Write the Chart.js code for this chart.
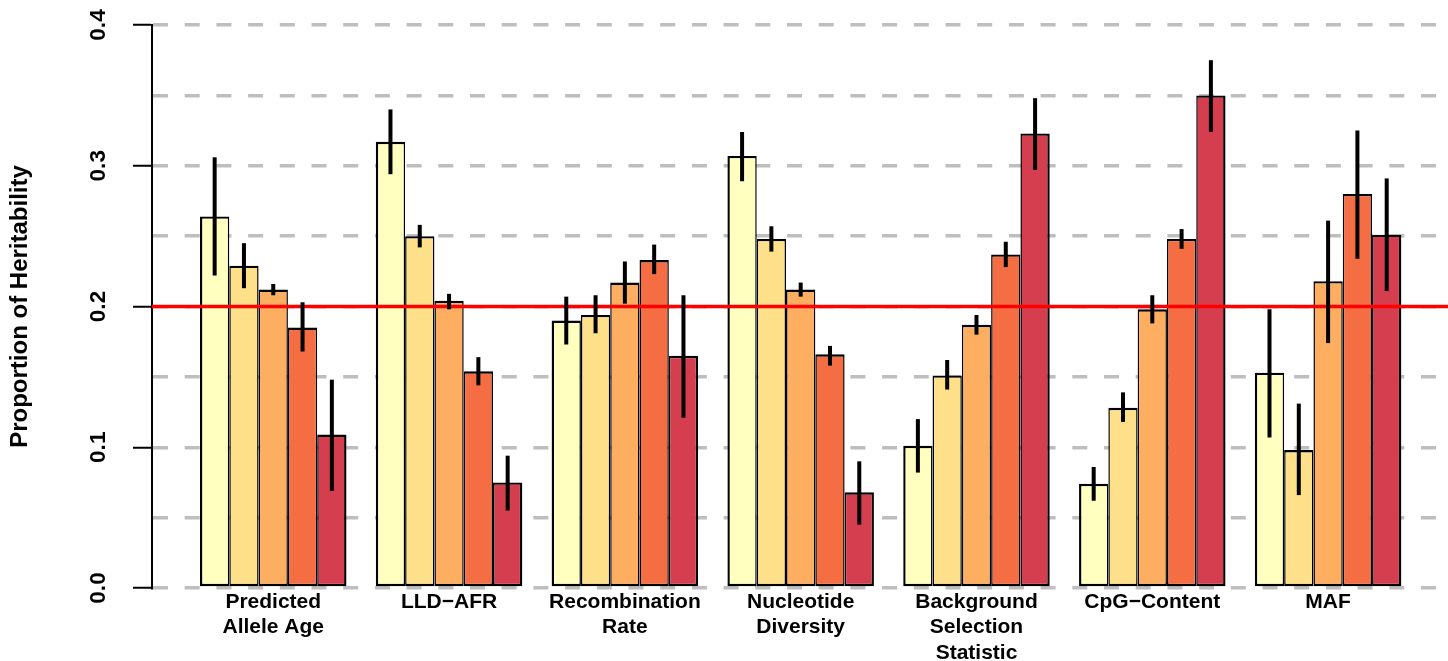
<!DOCTYPE html>
<html>
<head>
<meta charset="utf-8">
<script src="https://cdn.jsdelivr.net/npm/chart.js@4.4.1/dist/chart.umd.min.js"></script>
<style>
  html, body { margin: 0; padding: 0; background: #ffffff; overflow: hidden; }
  #wrap { width: 1448px; height: 661px; position: relative; }
  canvas { display: block; }
</style>
</head>
<body>
<div id="wrap"><canvas id="c" width="1448" height="661"></canvas></div>
<script>
// ---- Data ----
const categories = [
  ["Predicted", "Allele Age"],
  ["LLD\u2212AFR"],
  ["Recombination", "Rate"],
  ["Nucleotide", "Diversity"],
  ["Background", "Selection", "Statistic"],
  ["CpG\u2212Content"],
  ["MAF"]
];
const seriesNames = ["Quintile 1", "Quintile 2", "Quintile 3", "Quintile 4", "Quintile 5"];

const q1 = [0.264, 0.317, 0.190, 0.307, 0.101, 0.074, 0.153];
const q2 = [0.229, 0.250, 0.194, 0.248, 0.151, 0.128, 0.098];
const q3 = [0.212, 0.204, 0.217, 0.212, 0.187, 0.198, 0.218];
const q4 = [0.185, 0.154, 0.233, 0.166, 0.237, 0.248, 0.280];
const q5 = [0.109, 0.075, 0.165, 0.068, 0.323, 0.350, 0.251];

const q1Low  = [0.222, 0.294, 0.173, 0.289, 0.082, 0.062, 0.107];
const q1High = [0.306, 0.340, 0.207, 0.324, 0.120, 0.086, 0.198];
const q2Low  = [0.213, 0.242, 0.181, 0.239, 0.141, 0.118, 0.066];
const q2High = [0.245, 0.258, 0.208, 0.257, 0.162, 0.139, 0.131];
const q3Low  = [0.208, 0.198, 0.202, 0.207, 0.180, 0.188, 0.174];
const q3High = [0.216, 0.209, 0.232, 0.217, 0.194, 0.208, 0.261];
const q4Low  = [0.168, 0.144, 0.223, 0.158, 0.228, 0.241, 0.234];
const q4High = [0.203, 0.164, 0.244, 0.172, 0.246, 0.255, 0.325];
const q5Low  = [0.069, 0.055, 0.121, 0.045, 0.297, 0.324, 0.211];
const q5High = [0.148, 0.094, 0.208, 0.090, 0.348, 0.375, 0.291];

const yTickValues = [0.0, 0.1, 0.2, 0.3, 0.4];
const referenceLine = 0.2;

// ---- Styles ----
const colors = ["#FFFFBF", "#FEE08B", "#FDAE61", "#F46D43", "#D53E4F"];
const seriesValues = [q1, q2, q3, q4, q5];
const seriesLow = [q1Low, q2Low, q3Low, q4Low, q5Low];
const seriesHigh = [q1High, q2High, q3High, q4High, q5High];

const FONT = "'Liberation Sans', Arial, Helvetica, sans-serif";
Chart.defaults.font.family = FONT;
Chart.defaults.font.weight = 'bold';
Chart.defaults.color = '#000000';

const datasets = seriesValues.map((vals, d) => ({
  label: seriesNames[d],
  data: vals.map((v, i) => ({ x: i, y: v })),
  backgroundColor: colors[d],
  borderColor: '#000000',
  borderSkipped: false,
  borderWidth: {
    top: 2.4, bottom: 2.4,
    left: d === 0 ? 2.4 : 1.5,
    right: d === seriesValues.length - 1 ? 2.4 : 1.5
  },
  categoryPercentage: 5 / 6,
  barPercentage: 1.0
}));

const errorBarPlugin = {
  id: 'errorBars',
  afterDatasetsDraw(chart) {
    const ctx = chart.ctx;
    const y = chart.scales.y;
    const area = chart.chartArea;
    // reference line
    ctx.save();
    ctx.strokeStyle = '#FF0000';
    ctx.lineWidth = 3.5;
    const ry = y.getPixelForValue(referenceLine);
    ctx.beginPath();
    ctx.moveTo(area.left, ry);
    ctx.lineTo(area.right, ry);
    ctx.stroke();
    // error bars
    ctx.strokeStyle = '#000000';
    ctx.lineWidth = 4;
    ctx.lineCap = 'butt';
    chart.data.datasets.forEach((ds, d) => {
      const meta = chart.getDatasetMeta(d);
      meta.data.forEach((bar, i) => {
        const lo = y.getPixelForValue(seriesLow[d][i]);
        const hi = y.getPixelForValue(seriesHigh[d][i]);
        ctx.beginPath();
        ctx.moveTo(bar.x, lo);
        ctx.lineTo(bar.x, hi);
        ctx.stroke();
      });
    });
    ctx.restore();
  }
};

const isMajor = (v) => yTickValues.some(t => Math.abs(t - v) < 1e-9);

new Chart(document.getElementById('c'), {
  type: 'bar',
  data: { datasets },
  options: {
    responsive: false,
    animation: false,
    devicePixelRatio: 1,
    layout: { padding: { top: 25, right: 0, bottom: 0, left: 0 } },
    plugins: {
      legend: { display: false },
      tooltip: { enabled: false }
    },
    scales: {
      x: {
        type: 'linear',
        offset: false,
        min: -0.6897,
        max: 6.682,
        grid: { display: false, drawTicks: false },
        border: { display: false },
        ticks: {
          stepSize: 1,
          includeBounds: false,
          autoSkip: false,
          maxRotation: 0,
          minRotation: 0,
          padding: 1,
          font: { size: 21, weight: 'bold', lineHeight: 1.22 },
          color: '#000000',
          callback: (v) => Number.isInteger(v) && categories[v] ? categories[v] : ''
        },
        afterFit: (s) => { s.height = 73; }
      },
      y: {
        min: 0,
        max: 0.4,
        grid: {
          color: '#BEBEBE',
          lineWidth: 3.5,
          drawTicks: true,
          tickLength: 19,
          tickWidth: 2,
          tickBorderDash: [],
          tickColor: (ctx) => (ctx.tick && isMajor(ctx.tick.value)) ? '#000000' : 'rgba(0,0,0,0)'
        },
        border: { display: true, color: '#000000', width: 2, dash: [15, 16.7] },
        ticks: {
          stepSize: 0.05,
          minRotation: 90,
          maxRotation: 90,
          crossAlign: 'center',
          padding: 19,
          font: { size: 22.5, weight: 'bold', lineHeight: 0.4 },
          color: '#000000',
          callback: (v) => isMajor(v) ? v.toFixed(1) : ''
        },
        title: {
          display: true,
          text: 'Proportion of Heritability',
          font: { size: 24, weight: 'bold', lineHeight: 1.2 },
          color: '#000000',
          padding: { top: 6, bottom: 0 }
        },
        afterFit: (s) => { s.width = 152; }
      }
    }
  },
  plugins: [errorBarPlugin]
});
</script>
</body>
</html>
